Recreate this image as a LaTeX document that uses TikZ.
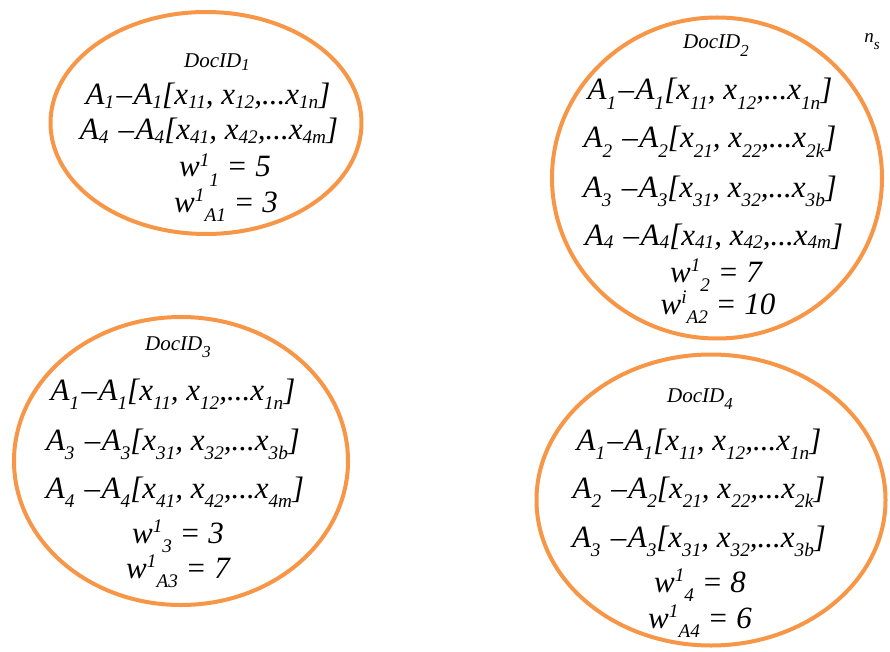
\documentclass[tikz,border=0pt]{standalone}
\usepackage{fontspec}
\setmainfont{Liberation Serif}
\usetikzlibrary{shapes.geometric}
\definecolor{docorange}{HTML}{F79646}
% low / high indices
\newcommand{\dn}[1]{\raisebox{-0.12em}{\scalebox{0.62}{#1}}}
\newcommand{\dnx}[1]{\raisebox{-0.3em}{\scalebox{0.62}{#1}}}
\newcommand{\dnh}[1]{\raisebox{-0.35em}{\scalebox{0.8}{#1}}}
\newcommand{\up}[1]{\raisebox{0.33em}{\scalebox{0.62}{#1}}}
\newcommand{\ds}{\kern0.08em–\kern0.05em}
\begin{document}
\begin{tikzpicture}[x=1pt,y=-1pt,
  doc/.style={draw=docorange, line width=4pt, ellipse, inner sep=0pt},
  row/.style={anchor=base, inner sep=0pt, font=\itshape\fontsize{31}{31}\selectfont},
  head/.style={anchor=base, inner sep=0pt, font=\itshape\fontsize{21}{21}\selectfont}]
\useasboundingbox (0,0) rectangle (890,652);
\node[doc, minimum width=311pt, minimum height=222pt] (e1) at (206,123) {};
\node[doc, minimum width=330pt, minimum height=321pt] (e2) at (717,178) {};
\node[doc, minimum width=334pt, minimum height=288pt] (e3) at (181,461) {};
\node[doc, minimum width=349pt, minimum height=291pt] (e4) at (711,500) {};
% DocID 1
\node[head] (d1) at (217,68) {DocID\raisebox{-0.12em}{\scalebox{0.8}{1}}};
\node[row] (a11) at (208,105) {A\dn{1}\ds A\dn{1}[x\dn{11}, x\dn{12},...x\dn{1n}]};
\node[row] (a14) at (209,140) {A\dn{4} \ds A\dn{4}[x\dn{41}, x\dn{42},...x\dn{4m}]};
\node[row] (w1) at (225,177) {w\up{1}\dnx{1} = 5};
\node[row] (wa1) at (226,212) {w\up{1}\dnx{A1} = 3};
% DocID 2
\node[head] (d2) at (716,49) {DocID\dnh{2}};
\node[head, font=\itshape\fontsize{19}{19}\selectfont] (ns) at (872,43) {n\dnh{s}};
\node[row] (a21) at (710,100) {A\dnx{1}\ds A\dnx{1}[x\dnx{11}, x\dnx{12},...x\dnx{1n}]};
\node[row] (a22) at (710,148) {A\dnx{2} \ds A\dnx{2}[x\dnx{21}, x\dnx{22},...x\dnx{2k}]};
\node[row] (a23) at (710,197) {A\dnx{3} \ds A\dnx{3}[x\dnx{31}, x\dnx{32},...x\dnx{3b}]};
\node[row] (a24) at (714,245) {A\dn{4} \ds A\dn{4}[x\dn{41}, x\dn{42},...x\dn{4m}]};
\node[row] (w2) at (716,282) {w\up{1}\dnx{2} = 7};
\node[row] (wa2) at (718,314) {w\up{i}\dnx{A2} = 10};
% DocID 3
\node[head] (d3) at (178,350) {DocID\dnh{3}};
\node[row] (a31) at (173,400) {A\dnx{1}\ds A\dnx{1}[x\dnx{11}, x\dnx{12},...x\dnx{1n}]};
\node[row] (a33) at (173,450) {A\dnx{3} \ds A\dnx{3}[x\dnx{31}, x\dnx{32},...x\dnx{3b}]};
\node[row] (a34) at (175,498) {A\dnx{4} \ds A\dnx{4}[x\dnx{41}, x\dnx{42},...x\dnx{4m}]};
\node[row] (w3) at (178,543) {w\up{1}\dnx{3} = 3};
\node[row] (wa3) at (178,578) {w\up{1}\dnx{A3} = 7};
% DocID 4
\node[head] (d4) at (700,402) {DocID\dnh{4}};
\node[row] (a41) at (699,450) {A\dnx{1}\ds A\dnx{1}[x\dnx{11}, x\dnx{12},...x\dnx{1n}]};
\node[row] (a42) at (699,498) {A\dnx{2} \ds A\dnx{2}[x\dnx{21}, x\dnx{22},...x\dnx{2k}]};
\node[row] (a43) at (699,547) {A\dnx{3} \ds A\dnx{3}[x\dnx{31}, x\dnx{32},...x\dnx{3b}]};
\node[row] (w4) at (700,592) {w\up{1}\dnx{4} = 8};
\node[row] (wa4) at (700,628) {w\up{1}\dnx{A4} = 6};
\end{tikzpicture}
\end{document}
